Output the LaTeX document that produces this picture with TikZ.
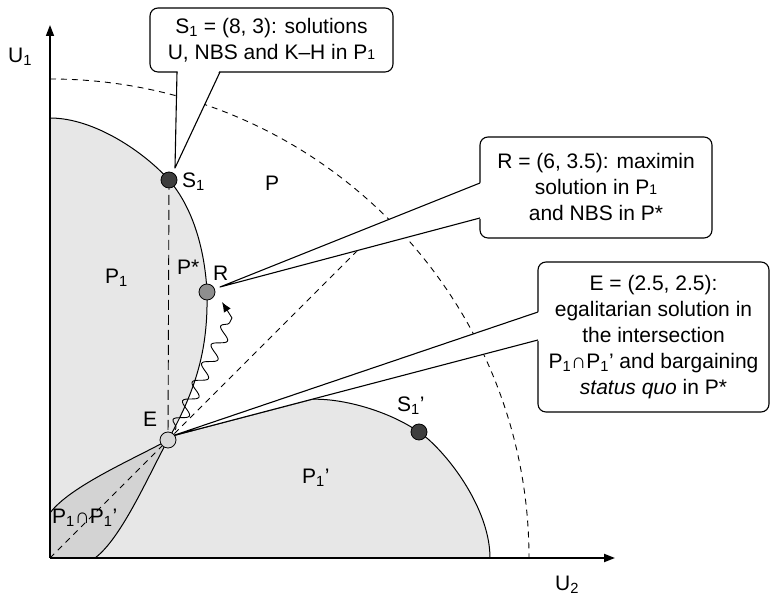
\documentclass[tikz,border=0pt]{standalone}
\usepackage{fontspec}
\setmainfont{Liberation Sans}
\usetikzlibrary{arrows.meta,decorations.pathmorphing}
\definecolor{regionfill}{HTML}{E7E7E7}
\definecolor{interfill}{HTML}{D3D3D3}
\definecolor{darkpt}{HTML}{3E3E3E}
\definecolor{midpt}{HTML}{8E8E8E}
\definecolor{lightpt}{HTML}{D8D8D8}
\newcommand{\smallone}{{\fontsize{14}{14}\selectfont 1}}
\begin{document}
\begin{tikzpicture}[x=1pt,y=1pt,line join=round,
  font=\fontsize{21}{26}\selectfont,
  outline/.style={line width=1pt},
  dashA/.style={dash pattern=on 6pt off 5pt, line width=0.9pt},
  dashB/.style={dash pattern=on 10pt off 5pt, line width=0.9pt},
  solpt/.style={circle, draw=black, line width=0.8pt, minimum size=16pt, inner sep=0pt},
  callbox/.style={draw, fill=white, rounded corners=8pt, line width=1.1pt, align=center, inner sep=0pt},
  wedgeline/.style={line width=1.1pt},
  axisline/.style={line width=1.5pt, -{Triangle[length=11pt,width=8pt]}},
  lbl/.style={inner sep=0pt, anchor=base west}]
\useasboundingbox (-50,-38) rectangle (721,558);

% positions
\coordinate (O) at (0,0);
\coordinate (yend) at (0,533);
\coordinate (xend) at (565,0);
\coordinate (pS1) at (119,378);
\coordinate (pR) at (157,266);
\coordinate (pE) at (118,118);
\coordinate (pS1b) at (369,126);
\coordinate (tipE) at (122,122);
\coordinate (pQ) at (262,158.7);

% regions
\fill[regionfill] (0,0) -- (0,440) .. controls (45,440) and (95,405) .. (119,378)
  .. controls (144,349) and (155,306) .. (157,266)
  .. controls (158,216) and (150,175) .. (118,118)
  .. controls (100,86) and (72,20) .. (45,0) -- cycle;
\fill[regionfill] (0,0) -- (440,0) .. controls (440,45) and (405,95) .. (378,119)
  .. controls (349,144) and (296,160) .. (pQ) -- (tipE) -- (pE)
  .. controls (86,100) and (20,72) .. (0,45) -- cycle;
\fill[interfill] (0,0) -- (45,0) .. controls (72,20) and (100,86) .. (118,118)
  .. controls (86,100) and (20,72) .. (0,45) -- cycle;

% frontiers
\draw[outline] (0,440) .. controls (45,440) and (95,405) .. (119,378)
  .. controls (144,349) and (155,306) .. (157,266)
  .. controls (158,216) and (150,175) .. (118,118)
  .. controls (100,86) and (72,20) .. (45,0);
\draw[outline] (440,0) .. controls (440,45) and (405,95) .. (378,119)
  .. controls (349,144) and (296,160) .. (pQ) -- (tipE) -- (pE)
  .. controls (86,100) and (20,72) .. (0,45);

% dashed lines
\draw[dashA] (0,479) arc[start angle=90, end angle=0, radius=479];
\draw[dashA] (O) -- (45:479);
\draw[dashB] (pS1) -- (pE);

% wavy arrow
\coordinate (wv0) at (125,128);
\coordinate (wv1) at (182,240);
\coordinate (wvtip) at (172,256);
\draw[line width=0.9pt, decorate, decoration={snake, amplitude=6.5pt, segment length=21pt, pre length=2pt, post length=1pt}] (wv0) -- (wv1);
\draw[line width=0.9pt, -{Latex[length=10pt,width=8pt]}] (wv1) -- (wvtip);

% axes
\draw[axisline] (O) -- (yend);
\draw[axisline, line width=2pt] (O) -- (xend);

% callout S1
\node[callbox, minimum width=243pt, minimum height=64pt] (boxS) at (221.5,518)
  {S\textsubscript{1} = (8, 3): solutions\\U, NBS and K–H in P\smallone};
\coordinate (tipS) at (125,390);
\coordinate (bS1) at (127,486);
\coordinate (bS2) at (170,486);
\fill[white] (tipS) -- (127.6,487.6) -- (169.4,487.6) -- cycle;
\draw[wedgeline] (bS1) -- (tipS) -- (bS2);

% callout R
\node[callbox, minimum width=232pt, minimum height=101pt] (boxR) at (546,370.5)
  {R = (6, 3.5): maximin\\solution in P\smallone\\and NBS in P*};
\coordinate (tipR) at (170,271);
\coordinate (bR1) at (430,375);
\coordinate (bR2) at (430,340);
\fill[white] (tipR) -- (431.6,375.6) -- (431.6,339.4) -- cycle;
\draw[wedgeline] (bR1) -- (tipR) -- (bR2);

% callout E
\node[callbox, minimum width=231pt, minimum height=150pt] (boxE) at (603.5,221)
  {E = (2.5, 2.5):\\egalitarian solution in\\the intersection\\P\textsubscript{1}∩P\textsubscript{1}’ and bargaining\\\textit{status quo} in P*};
\coordinate (bE1) at (488,246);
\coordinate (bE2) at (488,218);
\fill[white] (tipE) -- (489.6,246.6) -- (489.6,217.4) -- cycle;
\draw[wedgeline] (bE1) -- (tipE) -- (bE2);

% solution points
\node[solpt, fill=darkpt] (S1) at (pS1) {};
\node[solpt, fill=midpt] (R) at (pR) {};
\node[solpt, fill=lightpt] (E) at (pE) {};
\node[solpt, fill=darkpt] (S1b) at (pS1b) {};

% labels
\node[lbl] (lU1) at (-42,495.5) {U\textsubscript{1}};
\node[lbl] (lU2) at (505,-32.5) {U\textsubscript{2}};
\node[lbl] (lS1) at (132,370.5) {S\textsubscript{1}};
\node[lbl] (lP) at (215,367.5) {P};
\node[lbl] (lP1) at (55,274.5) {P\textsubscript{1}};
\node[lbl] (lPs) at (127,283.5) {P*};
\node[lbl] (lR) at (163,277.5) {R};
\node[lbl] (lE) at (93,131.5) {E};
\node[lbl] (lS1b) at (347,146.5) {S\textsubscript{1}’};
\node[lbl] (lP1b) at (252,74.5) {P\textsubscript{1}’};
\node[lbl] (lInt) at (2,34.5) {P\textsubscript{1}∩P\textsubscript{1}’};
\end{tikzpicture}
\end{document}
